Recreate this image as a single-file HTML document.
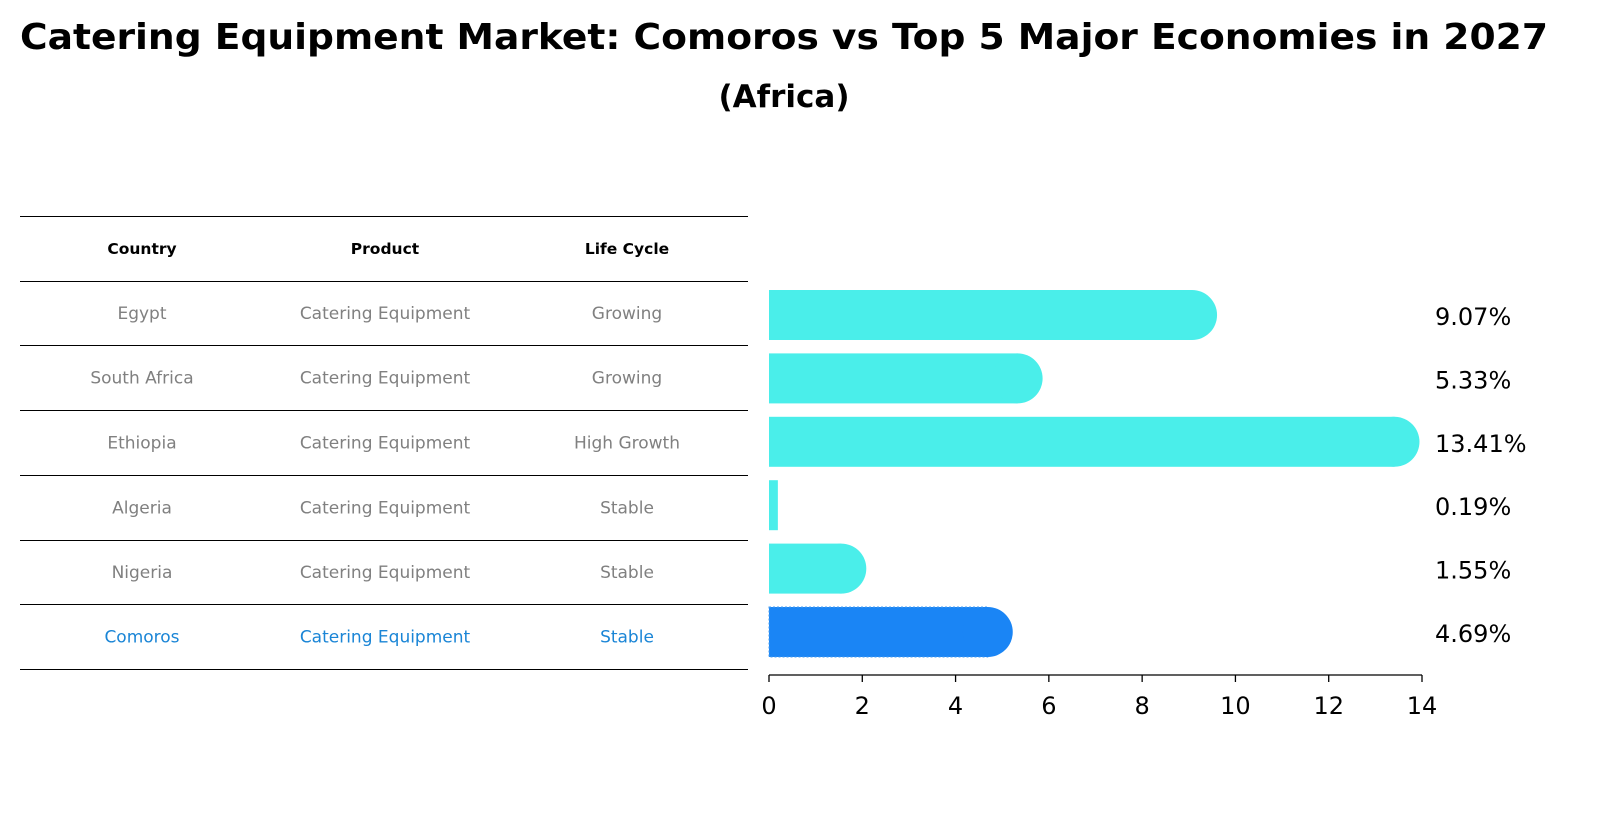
<!DOCTYPE html>
<html><head><meta charset="utf-8"><style>
body{margin:0;background:#fff;font-family:"Liberation Sans","DejaVu Sans",sans-serif}
</style></head><body>
<svg width="1617" height="823" xmlns="http://www.w3.org/2000/svg" font-family="'DejaVu Sans','Liberation Sans',sans-serif">
<text x="784" y="49" text-anchor="middle" font-size="36" font-weight="bold" textLength="1528" lengthAdjust="spacingAndGlyphs">Catering Equipment Market: Comoros vs Top 5 Major Economies in 2027</text>
<text x="784" y="107" text-anchor="middle" font-size="31" font-weight="bold">(Africa)</text>
<g id="table"></g>
<g id="bars"></g>
</svg>
<script>
const countries=["Egypt","South Africa","Ethiopia","Algeria","Nigeria","Comoros"];
const products=["Catering Equipment","Catering Equipment","Catering Equipment","Catering Equipment","Catering Equipment","Catering Equipment"];
const lifeCycles=["Growing","Growing","High Growth","Stable","Stable","Stable"];
const values=[9.07,5.33,13.41,0.19,1.55,4.69];
const xTicks=[0,2,4,6,8,10,12,14];
const NS="http://www.w3.org/2000/svg";
function mk(t,a,p){const e=document.createElementNS(NS,t);for(const k in a)e.setAttribute(k,a[k]);p.appendChild(e);return e;}
const x0=769,xScale=(1422-769)/14;
const xs=v=>x0+v*xScale;
const rowY=i=>315+i*63.4;
const tbl=document.getElementById('table');
const lineYs=[216,281,345,410,475,540,604,669];
lineYs.forEach(y=>{const l=mk('line',{x1:20,x2:748,y1:y+0.5,y2:y+0.5,stroke:'#000','stroke-width':1,'shape-rendering':'crispEdges'},tbl);

});
const colX=[142,385,627];
["Country","Product","Life Cycle"].forEach((h,j)=>{const t=mk('text',{x:colX[j],y:254,'text-anchor':'middle','font-size':15.5,'font-weight':'bold'},tbl);t.textContent=h;

});
countries.forEach((c,i)=>{const y=(lineYs[i+1]+lineYs[i+2])/2+6;const col=c==="Comoros"?'#1a85d6':'#808080';
[c,products[i],lifeCycles[i]].forEach((s,j)=>{const t=mk('text',{x:colX[j],y:y,'text-anchor':'middle','font-size':17,fill:col},tbl);t.textContent=s;

});});
const g=document.getElementById('bars');
values.forEach((v,i)=>{const cy=rowY(i),h=50,isC=countries[i]==="Comoros",col=isC?'#1a85f5':'#4aeeea';
const r=mk('rect',{x:x0,y:cy-h/2,width:xs(v)-x0,height:h,fill:col},g);
if(isC){r.setAttribute('stroke','#4a9ef0');r.setAttribute('stroke-dasharray','2,2');}


if(v>0.5){const c=mk('circle',{cx:xs(v),cy:cy,r:h/2,fill:col},g);

}
const t=mk('text',{x:1435,y:cy+10,'font-size':24},g);t.textContent=v.toFixed(2)+'%';

});
const ax=mk('line',{x1:x0,x2:xs(14),y1:675,y2:675,stroke:'#000','stroke-width':1.3},g);


xTicks.forEach(v=>{const l=mk('line',{x1:xs(v),x2:xs(v),y1:675,y2:682,stroke:'#000','stroke-width':1.3},g);


const t=mk('text',{x:xs(v),y:714,'text-anchor':'middle','font-size':24},g);t.textContent=v;

});
</script>
</body></html>
